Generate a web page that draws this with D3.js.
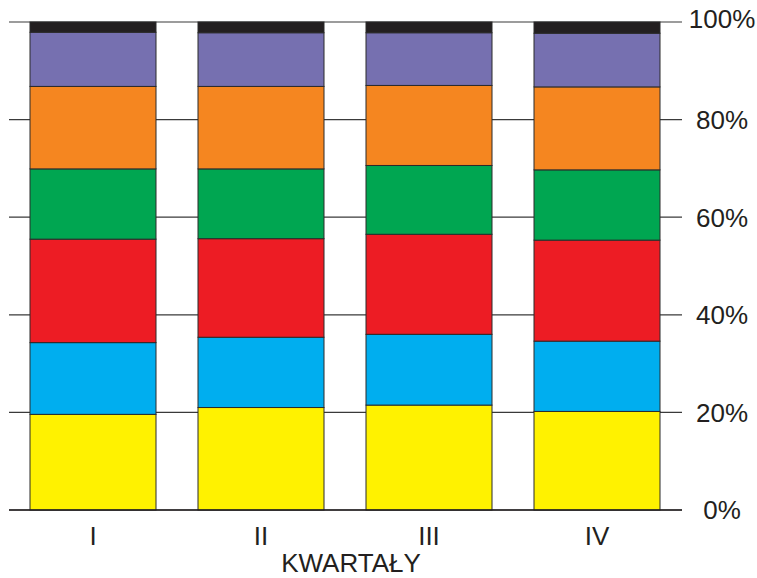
<!DOCTYPE html>
<html>
<head>
<meta charset="utf-8">
<script src="https://cdn.jsdelivr.net/npm/d3@7/dist/d3.min.js"></script>
<style>
html,body{margin:0;padding:0;background:#fff;}
svg{display:block;font-family:"Liberation Sans",Arial,Helvetica,sans-serif;}
</style>
</head>
<body>
<svg id="chart" width="757" height="578"></svg>
<script>
const categories = ["I", "II", "III", "IV"];
const seriesNames = ["s1", "s2", "s3", "s4", "s5", "s6", "s7"];
// percent shares, bottom to top
const s1 = [19.6, 21.0, 21.5, 20.2]; // yellow
const s2 = [14.7, 14.4, 14.5, 14.4]; // blue
const s3 = [21.2, 20.2, 20.5, 20.7]; // red
const s4 = [14.4, 14.3, 14.1, 14.4]; // green
const s5 = [16.9, 16.9, 16.4, 17.0]; // orange
const s6 = [11.1, 11.0, 10.8, 11.0]; // purple
const s7 = [2.1, 2.2, 2.2, 2.3];     // black
const seriesValues = [s1, s2, s3, s4, s5, s6, s7];
const colors = ["#FFF200", "#00AEEF", "#ED1C24", "#00A651", "#F58620", "#7670B0", "#231F20"];
const yTicks = [0, 20, 40, 60, 80, 100];
const xTitle = "KWARTAŁY";

const rows = categories.map((c, i) => {
  const r = {cat: c};
  seriesNames.forEach((s, k) => r[s] = seriesValues[k][i]);
  return r;
});
const stack = d3.stack().keys(seriesNames).offset(d3.stackOffsetExpand);
const stacked = stack(rows);

const svg = d3.select("#chart");
const x = d3.scaleBand().domain(categories).range([9, 681]).paddingInner(0.25).paddingOuter(0.125);
const y = d3.scaleLinear().domain([0, 100]).range([510, 22]);

// gridlines
svg.append("g").selectAll("line").data(yTicks).join("line")
  .attr("x1", 9).attr("x2", 682)
  .attr("y1", d => y(d)).attr("y2", d => y(d))
  .attr("stroke", "#3a3a3a").attr("stroke-width", 1.2);

// bars
svg.append("g").selectAll("g").data(stacked).join("g")
  .attr("fill", (d, i) => colors[i])
  .selectAll("rect").data(d => d).join("rect")
  .attr("x", d => x(d.data.cat))
  .attr("width", x.bandwidth())
  .attr("y", d => y(d[1] * 100))
  .attr("height", d => y(d[0] * 100) - y(d[1] * 100))
  .attr("stroke", "#2a2a2a").attr("stroke-width", 1);

// baseline on top
svg.append("line").attr("x1", 9).attr("x2", 682).attr("y1", y(0)).attr("y2", y(0))
  .attr("stroke", "#231F20").attr("stroke-width", 1.4);

// right axis labels
svg.append("g").selectAll("text").data(yTicks).join("text")
  .attr("x", 722)
  .attr("y", d => y(d) + (d === 100 ? -3 : 0))
  .attr("dy", "0.36em")
  .attr("text-anchor", "middle")
  .attr("font-size", 26).attr("fill", "#231F20")
  .text(d => d + "%");

// category labels
svg.append("g").selectAll("text").data(categories).join("text")
  .attr("x", d => x(d) + x.bandwidth() / 2)
  .attr("y", 545)
  .attr("text-anchor", "middle")
  .attr("font-size", 26).attr("fill", "#231F20")
  .text(d => d);

svg.append("text").attr("x", 351).attr("y", 572)
  .attr("text-anchor", "middle").attr("font-size", 26).attr("fill", "#231F20")
  .text(xTitle);
</script>
</body>
</html>
